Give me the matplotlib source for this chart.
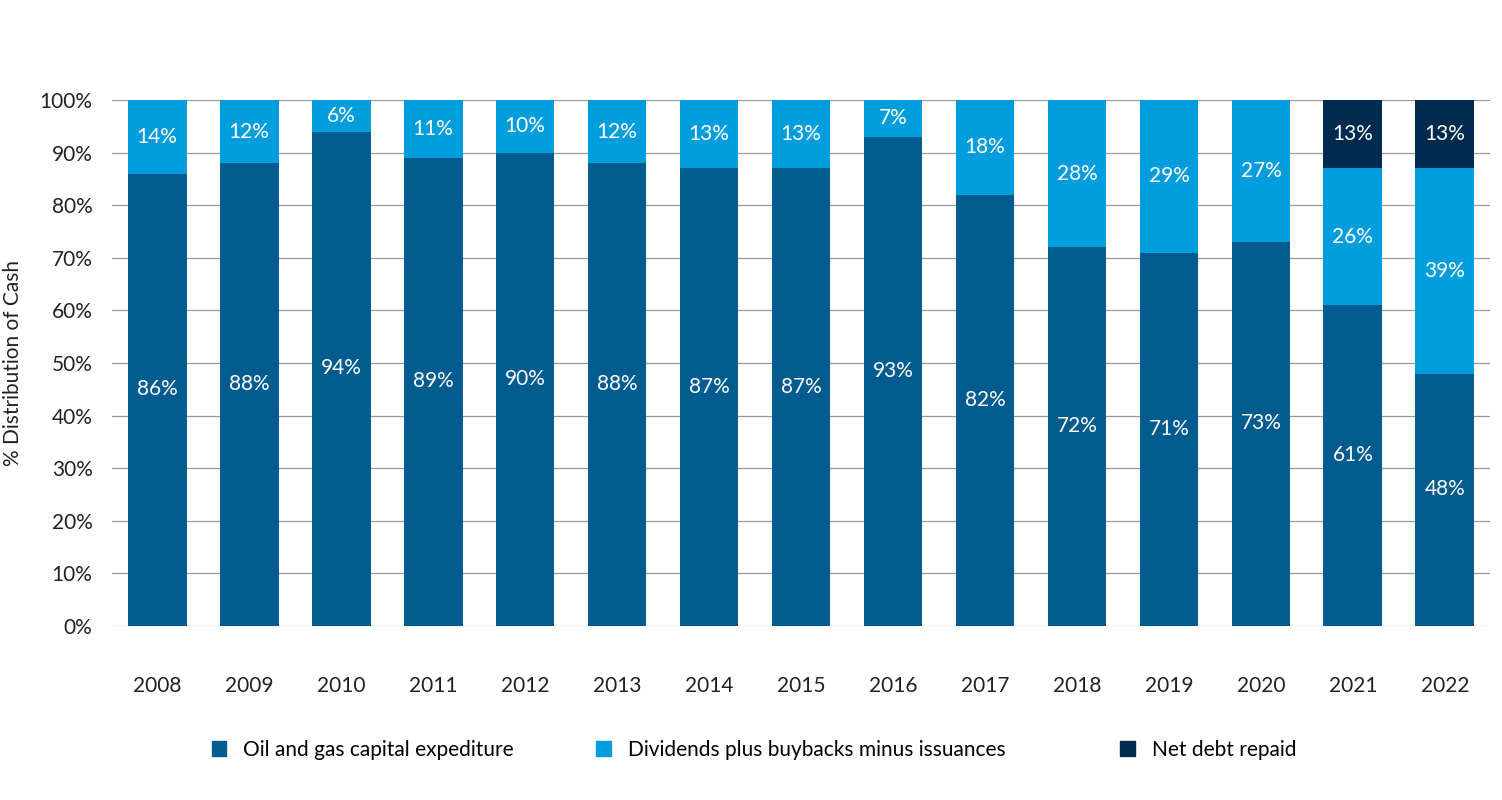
import numpy as np
import matplotlib
matplotlib.use('Agg')
from matplotlib import pyplot as plt
from matplotlib.patches import Patch

years = ['2008', '2009', '2010', '2011', '2012', '2013', '2014', '2015',
         '2016', '2017', '2018', '2019', '2020', '2021', '2022']
capex = [86, 88, 94, 89, 90, 88, 87, 87, 93, 82, 72, 71, 73, 61, 48]
dividends = [14, 12, 6, 11, 10, 12, 13, 13, 7, 18, 28, 29, 27, 26, 39]
debt = [0, 0, 0, 0, 0, 0, 0, 0, 0, 0, 0, 0, 0, 13, 13]
series_names = ['Oil and gas capital expediture',
                'Dividends plus buybacks minus issuances',
                'Net debt repaid']

c_capex = '#005b8e'
c_div = '#009ddc'
c_debt = '#002a4e'

plt.rcParams['font.family'] = ['Lato', 'DejaVu Sans']

fig = plt.figure(figsize=(15.02, 8), dpi=100)
ax = fig.add_axes([0.0746, 0.2175, 0.9174, 0.6575])

x = np.arange(len(years))
w = 0.64
capex = np.array(capex)
dividends = np.array(dividends)
debt = np.array(debt)

ax.bar(x, capex, w, color=c_capex, zorder=3)
ax.bar(x, dividends, w, bottom=capex, color=c_div, zorder=3)
ax.bar(x, debt, w, bottom=capex + dividends, color=c_debt, zorder=3)

for i in range(len(years)):
    ax.text(x[i], capex[i] / 2 + 2, '%d%%' % capex[i], ha='center', va='center',
            color='white', fontsize=15, zorder=4)
    ax.text(x[i], capex[i] + dividends[i] / 2, '%d%%' % dividends[i], ha='center',
            va='center', color='white', fontsize=15, zorder=4)
    if debt[i] > 0:
        ax.text(x[i], capex[i] + dividends[i] + debt[i] / 2, '%d%%' % debt[i],
                ha='center', va='center', color='white', fontsize=15, zorder=4)

ax.set_xlim(-0.49, len(years) - 0.51)
ax.set_ylim(0, 100)
ax.set_yticks(np.arange(0, 101, 10))
ax.set_yticklabels(['%d%%' % v for v in range(0, 101, 10)])
ax.set_xticks(x)
ax.set_xticklabels(years)
ax.tick_params(axis='both', length=0, labelsize=15, colors='#222222')
ax.tick_params(axis='x', pad=36)
ax.tick_params(axis='y', pad=14)
ax.yaxis.grid(True, color='#999999', linewidth=0.9, zorder=0)
for s in ax.spines.values():
    s.set_visible(False)
ax.set_ylabel('% Distribution of Cash', fontsize=15, color='#222222', labelpad=12)

# legend entries spaced as in the original
colors = [c_capex, c_div, c_debt]
leg_x = [0.141, 0.397, 0.746]
for name, col, lx in zip(series_names, colors, leg_x):
    lg = fig.legend([Patch(color=col)], [name], loc='center left',
                    bbox_to_anchor=(lx, 0.0625), frameon=False, fontsize=15,
                    handlelength=0.7, handleheight=0.7, handletextpad=0.8,
                    borderpad=0, borderaxespad=0)

fig.savefig('out.png', dpi=100)
